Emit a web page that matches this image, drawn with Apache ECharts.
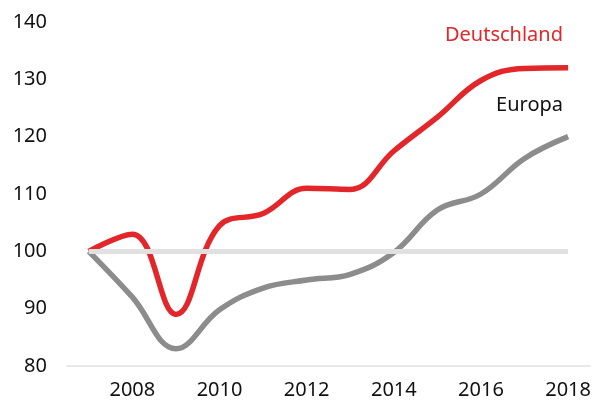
<!DOCTYPE html>
<html>
<head>
<meta charset="utf-8">
<script src="https://cdn.jsdelivr.net/npm/echarts@6/dist/echarts.min.js"></script>
<style>
  html, body { margin: 0; padding: 0; background: #fff; }
  #chart { width: 594px; height: 403px; }
</style>
</head>
<body>
<div id="chart"></div>
<script>
// Daten
var years = ["2007", "2008", "2009", "2010", "2011", "2012", "2013", "2014", "2015", "2016", "2017", "2018"];
var deutschland = [100, 103, 89, 104.5, 106.6, 111, 110.8, 117.5, 123.4, 129.8, 131.9, 132];
var europa = [100, 92, 83, 89.8, 93.6, 95, 96, 99.8, 107.2, 110, 116.2, 120];
var basisWert = 100;
var yTicks = { min: 80, max: 140, step: 10 };

(function() {
  var myChart = echarts.init(document.getElementById("chart"));
  var font = "'Noto Sans', sans-serif";

  var option = {
    animation: false,
    grid: { left: 67, right: 4, top: 22, bottom: 37 },
    xAxis: {
      type: "category",
      data: years,
      boundaryGap: true,
      axisLine: { lineStyle: { color: "#e8e8e8", width: 2 } },
      axisTick: { show: false },
      axisLabel: {
        interval: function(i) { return i % 2 === 1; },
        color: "#111",
        fontFamily: font,
        fontSize: 20,
        margin: 14
      }
    },
    yAxis: {
      type: "value",
      min: yTicks.min,
      max: yTicks.max,
      interval: yTicks.step,
      axisLine: { show: false },
      axisTick: { show: false },
      splitLine: { show: false },
      axisLabel: { color: "#111", fontFamily: font, fontSize: 20, margin: 20 }
    },
    series: [
      {
        name: "Basis",
        type: "line",
        data: [],
        markLine: {
          silent: true,
          symbol: "none",
          label: { show: false },
          lineStyle: { color: "#e0e0e0", width: 5, type: "solid" },
          data: [[{ coord: [years[0], basisWert] }, { coord: [years[years.length - 1], basisWert] }]]
        },
        z: 1
      },
      {
        name: "Europa",
        type: "line",
        data: europa,
        smooth: 0.4,
        symbol: "none",
        lineStyle: { color: "#8c8c8c", width: 5.5 },
        z: 2
      },
      {
        name: "Deutschland",
        type: "line",
        data: deutschland,
        smooth: 0.4,
        symbol: "none",
        lineStyle: { color: "#e3262a", width: 5.5 },
        z: 3
      }
    ],
    graphic: [
      {
        type: "text",
        right: 31,
        top: 25,
        style: { text: "Deutschland", fill: "#e3262a", font: "20px " + font }
      },
      {
        type: "text",
        right: 31,
        top: 95,
        style: { text: "Europa", fill: "#111", font: "20px " + font }
      }
    ]
  };

  myChart.setOption(option);
})();
</script>
</body>
</html>
